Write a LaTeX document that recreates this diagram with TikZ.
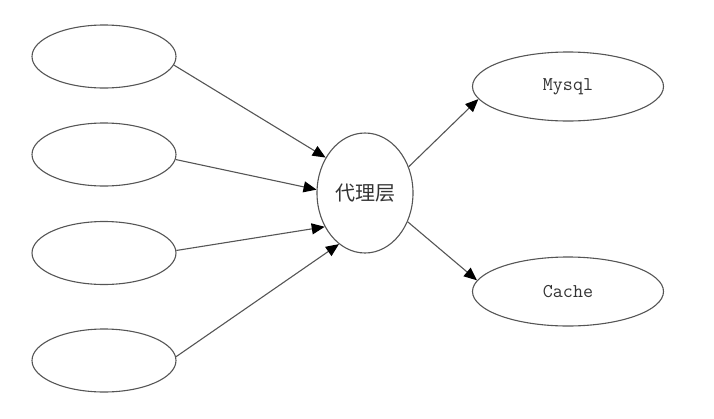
\documentclass[tikz,border=0pt]{standalone}
\usepackage{fontspec}
\newfontfamily\cjk{Noto Sans CJK SC}
\usetikzlibrary{shapes.geometric,arrows.meta}
\definecolor{edgegray}{HTML}{555555}
\definecolor{txtgray}{HTML}{333333}
\tikzset{
  client/.style={ellipse,draw=edgegray,line width=1.1pt,minimum width=144pt,minimum height=63pt,inner sep=0pt},
  proxy/.style={ellipse,draw=edgegray,line width=1.1pt,minimum width=96pt,minimum height=120pt,inner sep=0pt,text=txtgray,font=\cjk\fontsize{20}{20}\selectfont},
  store/.style={ellipse,draw=edgegray,line width=1.1pt,minimum width=191pt,minimum height=69pt,inner sep=0pt,text=txtgray,font=\ttfamily\fontsize{19.5}{19.5}\selectfont},
  link/.style={draw=edgegray,line width=1.1pt,-{Triangle[length=13pt,width=11pt,black]}}
}
\begin{document}
\begin{tikzpicture}[x=1pt,y=-1pt]
\useasboundingbox (0,0) rectangle (714,418);
\node[client] (a1) at (104,56.5) {};
\node[client] (a2) at (104,154.5) {};
\node[client] (a3) at (104,253) {};
\node[client] (a4) at (104,360.5) {};
\node[proxy] (c) at (365,193) {代理层};
\node[store] (m) at (568,86.5) {Mysql};
\node[store] (k) at (568,291.5) {Cache};
\draw[link] (a1.-7) -- (c.138);
\draw[link] (a2.-4) -- (c.176);
\draw[link] (a3.2) -- (c.220);
\draw[link] (a4.3) -- (c.243);
\draw[link] (c.31) -- (m.188);
\draw[link] (c.-34) -- (k.173);
\end{tikzpicture}
\end{document}
